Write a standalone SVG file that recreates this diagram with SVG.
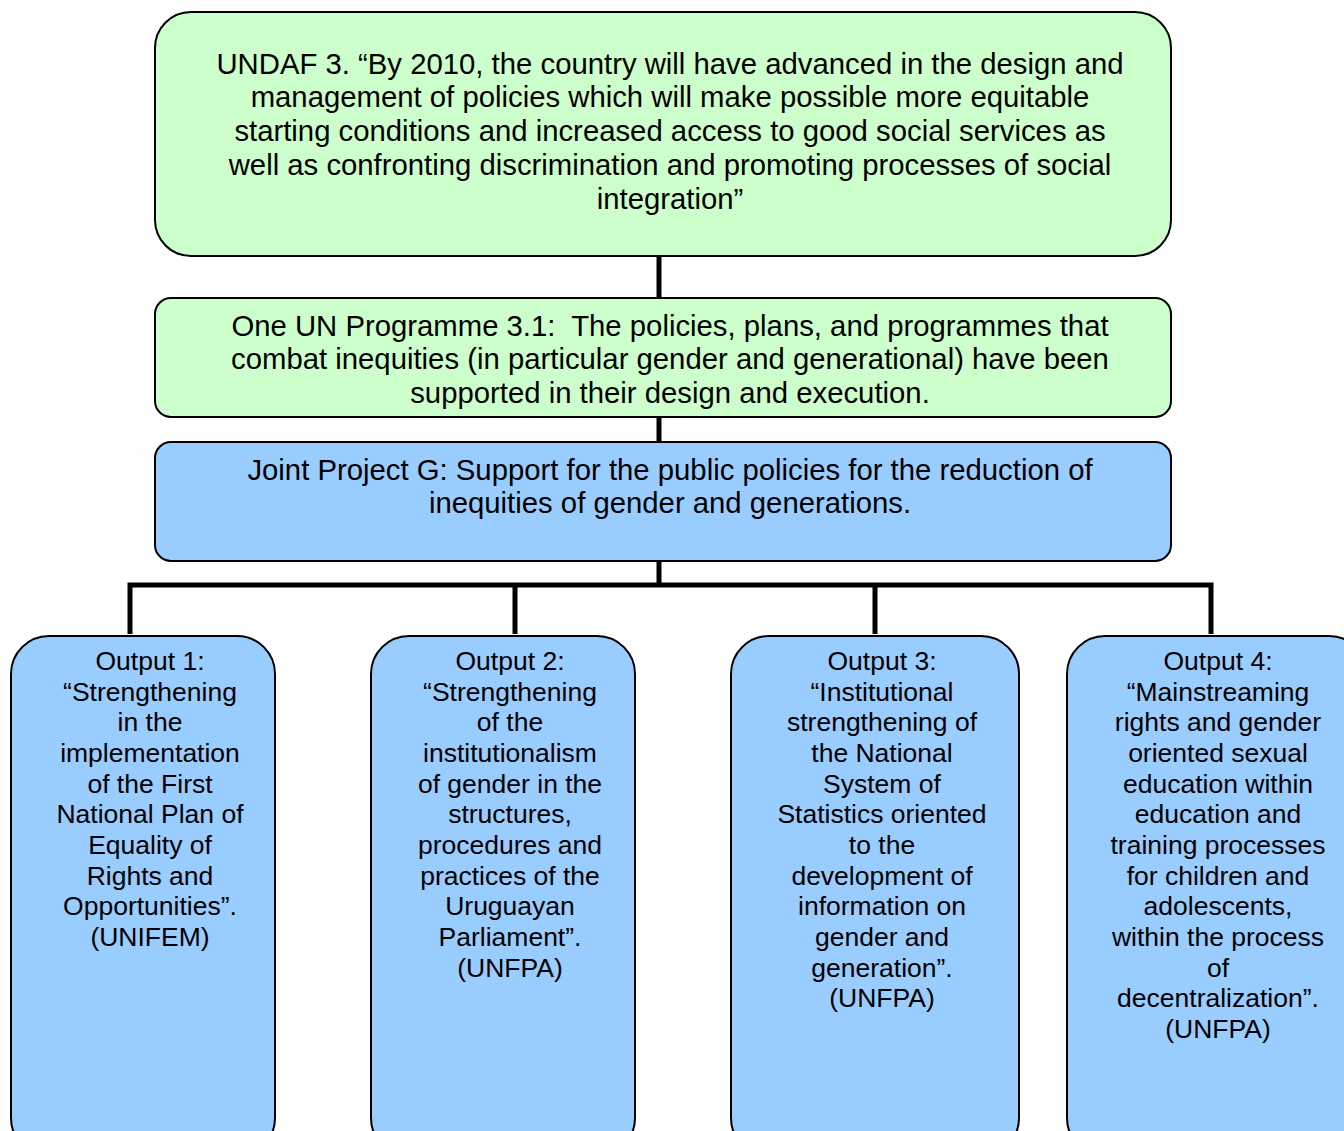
<svg xmlns="http://www.w3.org/2000/svg" width="1344" height="1131" viewBox="0 0 1344 1131">
<style>
.g{fill:#CCFFCC;stroke:#000;stroke-width:2}
.b{fill:#99CCFF;stroke:#000;stroke-width:2}
.t{font-family:"Liberation Sans",Arial,sans-serif;font-size:29.3px;fill:#000;text-anchor:middle}
.o{font-family:"Liberation Sans",Arial,sans-serif;font-size:26.5px;fill:#000;text-anchor:middle}
.c{fill:none;stroke:#000;stroke-width:5}
</style>
<rect width="1344" height="1131" fill="#fff"/>
<g id="connectors">
<line class="c" x1="659" y1="256" x2="659" y2="298"/>
<line class="c" x1="659" y1="417" x2="659" y2="442"/>
<line class="c" x1="659" y1="561" x2="659" y2="585"/>
<polyline class="c" points="130,634 130,585 1211,585 1211,634"/>
<line class="c" x1="515" y1="585" x2="515" y2="634"/>
<line class="c" x1="875" y1="585" x2="875" y2="634"/>
</g>
<g id="undaf">
<rect class="g" x="155" y="12" width="1016" height="244" rx="36"/>
<text class="t"><tspan x="670" y="73.5">UNDAF 3. “By 2010, the country will have advanced in the design and</tspan><tspan x="670" y="107.3">management of policies which will make possible more equitable</tspan><tspan x="670" y="141">starting conditions and increased access to good social services as</tspan><tspan x="670" y="175">well as confronting discrimination and promoting processes of social</tspan><tspan x="670" y="209">integration”</tspan></text>
</g>
<g id="programme">
<rect class="g" x="155" y="298" width="1016" height="119" rx="16"/>
<text class="t" xml:space="preserve"><tspan x="670" y="335.5">One UN Programme 3.1:  The policies, plans, and programmes that</tspan><tspan x="670" y="369.3">combat inequities (in particular gender and generational) have been</tspan><tspan x="670" y="403">supported in their design and execution.</tspan></text>
</g>
<g id="project">
<rect class="b" x="155" y="442" width="1016" height="119" rx="16"/>
<text class="t"><tspan x="670" y="479.5">Joint Project G: Support for the public policies for the reduction of</tspan><tspan x="670" y="513.3">inequities of gender and generations.</tspan></text>
</g>
<g id="output1">
<rect class="b" x="11" y="636" width="264" height="520" rx="38"/>
<text class="o"><tspan x="150" y="670">Output 1:</tspan><tspan x="150" y="701">“Strengthening</tspan><tspan x="150" y="731">in the</tspan><tspan x="150" y="762">implementation</tspan><tspan x="150" y="793">of the First</tspan><tspan x="150" y="823">National Plan of</tspan><tspan x="150" y="854">Equality of</tspan><tspan x="150" y="885">Rights and</tspan><tspan x="150" y="915">Opportunities”.</tspan><tspan x="150" y="946">(UNIFEM)</tspan></text>
</g>
<g id="output2">
<rect class="b" x="371" y="636" width="264" height="520" rx="38"/>
<text class="o"><tspan x="510" y="670">Output 2:</tspan><tspan x="510" y="701">“Strengthening</tspan><tspan x="510" y="731">of the</tspan><tspan x="510" y="762">institutionalism</tspan><tspan x="510" y="793">of gender in the</tspan><tspan x="510" y="823">structures,</tspan><tspan x="510" y="854">procedures and</tspan><tspan x="510" y="885">practices of the</tspan><tspan x="510" y="915">Uruguayan</tspan><tspan x="510" y="946">Parliament”.</tspan><tspan x="510" y="977">(UNFPA)</tspan></text>
</g>
<g id="output3">
<rect class="b" x="731" y="636" width="288" height="520" rx="38"/>
<text class="o"><tspan x="882" y="670">Output 3:</tspan><tspan x="882" y="701">“Institutional</tspan><tspan x="882" y="731">strengthening of</tspan><tspan x="882" y="762">the National</tspan><tspan x="882" y="793">System of</tspan><tspan x="882" y="823">Statistics oriented</tspan><tspan x="882" y="854">to the</tspan><tspan x="882" y="885">development of</tspan><tspan x="882" y="915">information on</tspan><tspan x="882" y="946">gender and</tspan><tspan x="882" y="977">generation”.</tspan><tspan x="882" y="1007">(UNFPA)</tspan></text>
</g>
<g id="output4">
<rect class="b" x="1067" y="636" width="300" height="520" rx="38"/>
<text class="o"><tspan x="1218" y="670">Output 4:</tspan><tspan x="1218" y="701">“Mainstreaming</tspan><tspan x="1218" y="731">rights and gender</tspan><tspan x="1218" y="762">oriented sexual</tspan><tspan x="1218" y="793">education within</tspan><tspan x="1218" y="823">education and</tspan><tspan x="1218" y="854">training processes</tspan><tspan x="1218" y="885">for children and</tspan><tspan x="1218" y="915">adolescents,</tspan><tspan x="1218" y="946">within the process</tspan><tspan x="1218" y="977">of</tspan><tspan x="1218" y="1007">decentralization”.</tspan><tspan x="1218" y="1038">(UNFPA)</tspan></text>
</g>
</svg>
